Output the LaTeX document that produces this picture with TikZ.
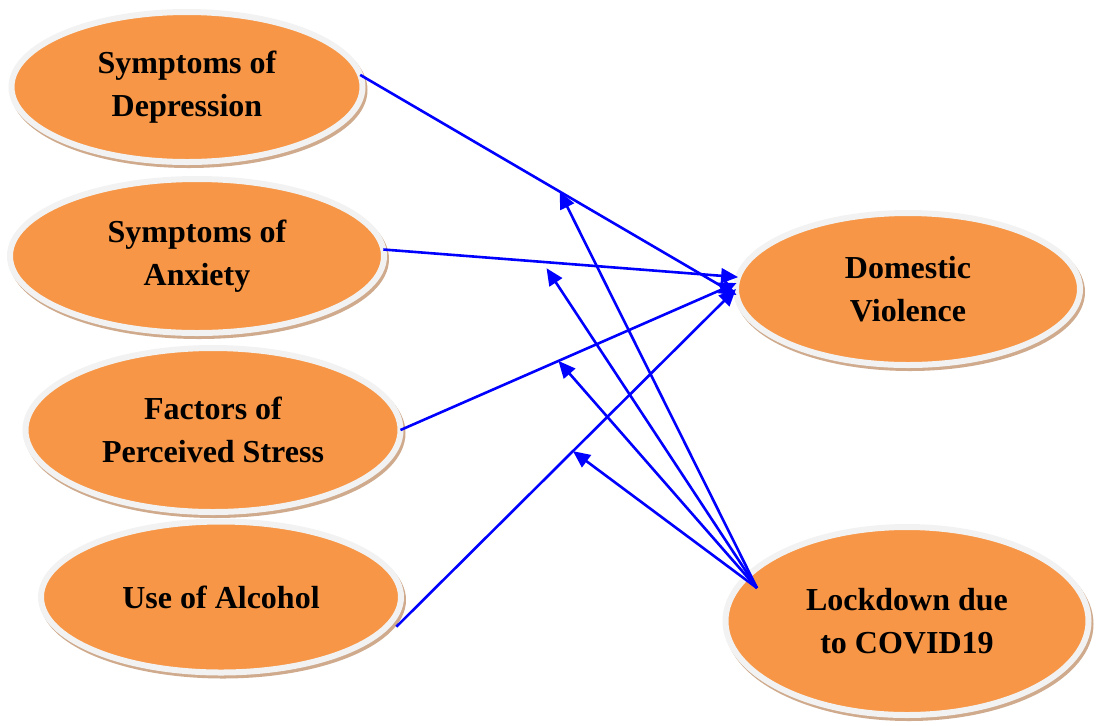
\documentclass[tikz,border=0pt]{standalone}
\usepackage{fontspec}
\setmainfont{Liberation Serif}
\usetikzlibrary{arrows.meta, shapes.geometric}
\definecolor{dvOrange}{HTML}{F79646}
\definecolor{dvRing}{HTML}{F2F2F2}
\definecolor{dvShadow}{HTML}{CFAA8C}
\definecolor{dvBlue}{HTML}{0000FF}

\begin{document}
\begin{tikzpicture}[
  x=0.5pt, y=-0.5pt,
  font=\bfseries\fontsize{16}{21.5}\selectfont,
  var/.style={ellipse, draw=dvRing, fill=dvOrange, line width=3pt, inner sep=0pt,
              outer sep=0pt, align=center,
              preaction={draw=dvShadow, fill=dvShadow, line width=3pt,
                         transform canvas={shift={(1pt,-1.5pt)}}}},
  ar/.style={-{Triangle[length=8.5pt, width=7.5pt]}, draw=dvBlue, line width=1.3pt},
]
\useasboundingbox (0,0) rectangle (1098,725);

\node[var, minimum width=175.5pt, minimum height=75pt] (dep) at (187,87) {Symptoms of\\Depression};
\node[var, minimum width=187pt, minimum height=77pt] (anx) at (197,256) {Symptoms of\\Anxiety};
\node[var, minimum width=187.5pt, minimum height=82pt] (str) at (213,430) {Factors of\\Perceived Stress};
\node[var, minimum width=180pt, minimum height=75.5pt] (alc) at (221,597) {Use of Alcohol};
\node[var, minimum width=172pt, minimum height=76pt] (dv) at (908,289) {Domestic\\Violence};
\node[var, minimum width=181.5pt, minimum height=94pt] (lock) at (907,621) {Lockdown due\\to COVID19};

\draw[ar] (dep.4) -- coordinate[pos=.53] (m1) (dv.182);
\draw[ar] (anx.2) -- coordinate[pos=.46, yshift=-3pt] (m2) (dv.176);
\draw[ar] (str.east) -- coordinate[pos=.47] (m3) (dv.178);
\draw[ar] ([shift={(6pt,1pt)}]alc.-11) -- coordinate[pos=.52] (m4) (dv.180);

\coordinate (lksrc) at (757,588);
\draw[ar] (lksrc) -- (m1);
\draw[ar] (lksrc) -- (m2);
\draw[ar] (lksrc) -- (m3);
\draw[ar] (lksrc) -- (m4);
\end{tikzpicture}
\end{document}
